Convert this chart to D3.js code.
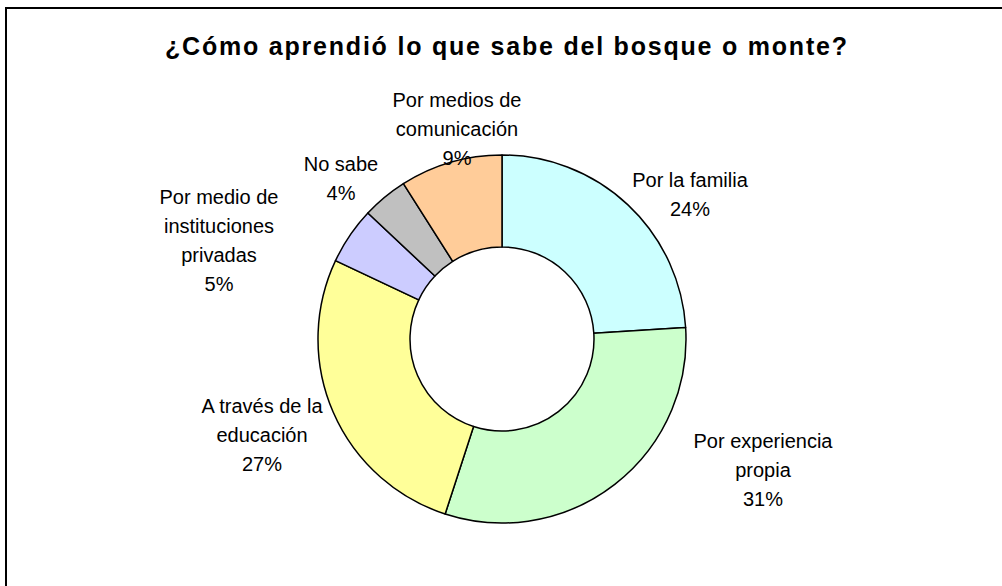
<!DOCTYPE html>
<html>
<head>
<meta charset="utf-8">
<script src="https://cdn.jsdelivr.net/npm/d3@7"></script>
<style>
  body { margin: 0; background: #fff; }
  text { font-family: "Liberation Sans", Arial, sans-serif; fill: #000; }
</style>
</head>
<body>
<svg width="1002" height="586"></svg>
<script>
// data, clockwise from 12 o'clock
var categories = ["Por la familia", "Por experiencia propia", "A través de la educación",
                  "Por medio de instituciones privadas", "No sabe", "Por medios de comunicación"];
var values = [24, 31, 27, 5, 4, 9];
var colors = ["#CCFFFF", "#CCFFCC", "#FFFF99", "#CCCCFF", "#C0C0C0", "#FFCC99"];
// label lines as they wrap in the original
var labelLines = [
  ["Por la familia"],
  ["Por experiencia", "propia"],
  ["A través de la", "educación"],
  ["Por medio de", "instituciones", "privadas"],
  ["No sabe"],
  ["Por medios de", "comunicación"]
];
// label anchor (centre x, first baseline y)
var labelPos = [[690, 187], [763, 448], [262, 413], [219, 204], [341, 171], [457, 107]];

var svg = d3.select("svg");
var CX = 502, CY = 339, R = 184, R0 = 92;

// chart frame (right and bottom edges fall outside the picture)
svg.append("rect")
    .attr("x", 6).attr("y", 8)
    .attr("width", 1100).attr("height", 700)
    .attr("fill", "none")
    .attr("stroke", "#000")
    .attr("stroke-width", 2);

svg.append("text")
    .attr("x", 165).attr("y", 55)
    .attr("textLength", 682)
    .attr("lengthAdjust", "spacing")
    .attr("font-size", 25)
    .attr("font-weight", "bold")
    .text("¿Cómo aprendió lo que sabe del bosque o monte?");

var data = categories.map((c, i) => ({name: c, value: values[i], i: i}));

var pie = d3.pie().sort(null).value(d => d.value);
var arc = d3.arc().innerRadius(R0).outerRadius(R);

var g = svg.append("g")
    .attr("transform", "translate(" + CX + "," + CY + ")");

g.selectAll("path")
    .data(pie(data))
    .enter().append("path")
    .attr("d", arc)
    .attr("fill", d => colors[d.data.i])
    .attr("stroke", "#000")
    .attr("stroke-width", 1.5)
    .attr("stroke-linejoin", "round");

var total = d3.sum(values);
var LH = 29;

data.forEach(function(d, i) {
  var lines = labelLines[i].concat([Math.round(d.value / total * 100) + "%"]);
  var t = svg.append("text")
      .attr("text-anchor", "middle")
      .attr("font-size", 20);
  lines.forEach(function(s, k) {
    t.append("tspan")
      .attr("x", labelPos[i][0])
      .attr("y", labelPos[i][1] + k * LH)
      .text(s);
  });
});
</script>
</body>
</html>
